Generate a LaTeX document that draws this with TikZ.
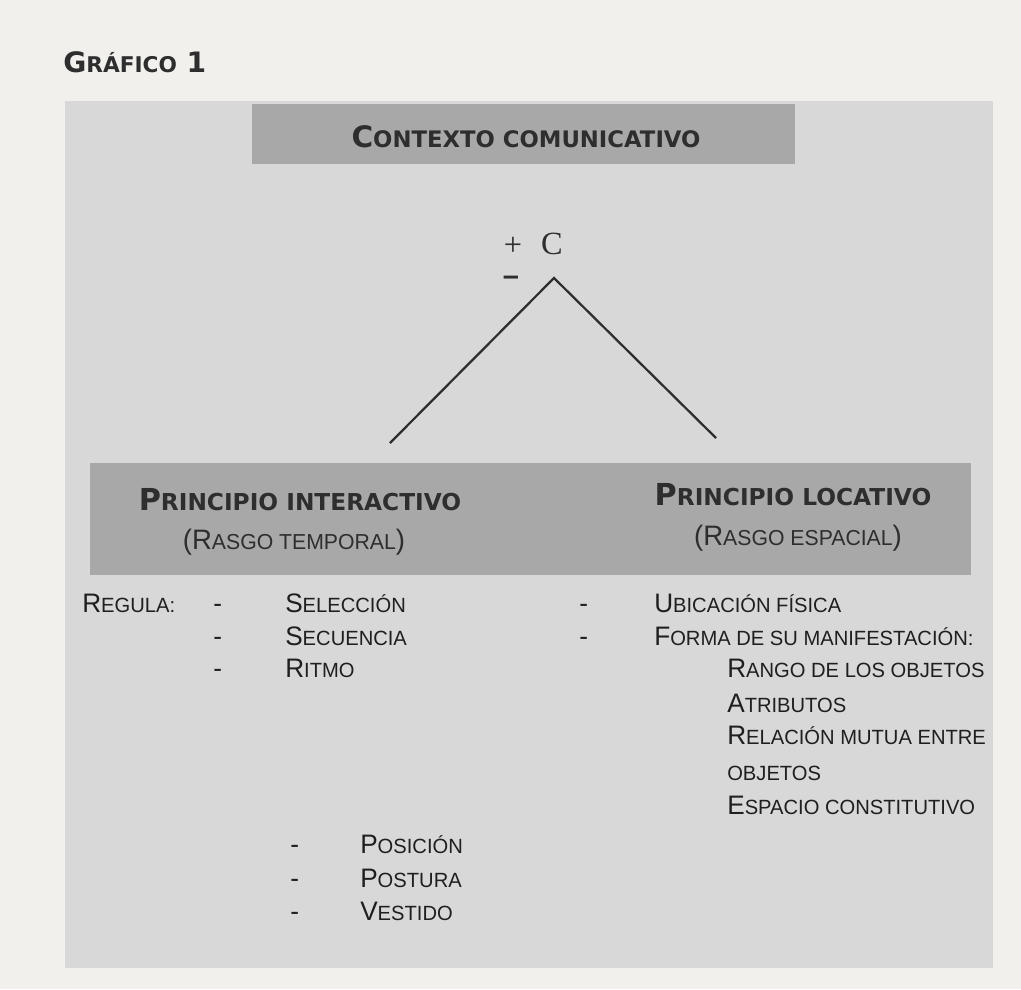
\documentclass[tikz,border=0pt]{standalone}
\usepackage{fontspec}
\usepackage{graphicx}
\usepackage{tikz}
\usetikzlibrary{positioning}
\setmainfont{Liberation Sans}
\newfontfamily\kopfschrift{DejaVu Sans}
\newfontfamily\listenschrift[FakeStretch=0.98]{Liberation Sans}
\newfontfamily\antiqua{Liberation Serif}
\definecolor{papier}{HTML}{F1F0ED}
\definecolor{tafel}{HTML}{D8D8D9}
\definecolor{balken}{HTML}{A8A8A8}
\definecolor{tinte}{HTML}{2E2E2E}
% Kapitaelchen von Hand
\newcommand{\kl}[1]{\scalebox{0.77}{#1}}
\tikzset{
  kopf/.style={inner sep=0pt, text=tinte, font=\kopfschrift\bfseries\fontsize{21.5}{24}\selectfont},
  unterkopf/.style={inner sep=0pt, anchor=base, text=tinte, font=\listenschrift\fontsize{20}{22}\selectfont},
  eintrag/.style={inner sep=0pt, anchor=base west, text=black!88, font=\listenschrift\fontsize{19}{21}\selectfont},
}

\begin{document}
\begin{tikzpicture}[x=0.025cm,y=-0.025cm]
\useasboundingbox (0,0) rectangle (1021,989);
\fill[papier] (0,0) rectangle (1021,989);
\fill[tafel] (65,101) rectangle (993,968);
\fill[balken] (252,104) rectangle (795,164);
\fill[balken] (90,463) rectangle (971,575);

\node[kopf, anchor=base west, font=\kopfschrift\bfseries\fontsize{20}{22}\selectfont] (titel) at (63,72) {G\kl{RÁFICO} 1};
\node[kopf, anchor=base, font=\kopfschrift\bfseries\fontsize{21}{24}\selectfont] (kontext) at (526,147) {C\kl{ONTEXTO COMUNICATIVO}};

%Spitze unter dem C
\node[inner sep=0pt, text=tinte, font=\antiqua\fontsize{23}{25}\selectfont] (plus) at (513,246) {+};
\node[inner sep=0pt, anchor=base, text=tinte, font=\antiqua\fontsize{23}{25}\selectfont] (c) at (552,254) {C};
\node[inner sep=0pt, text=tinte, font=\listenschrift\bfseries\fontsize{21}{22}\selectfont] (minus) at (511,281) {–};
\coordinate (spitze) at (554,278);
\coordinate (linksende) at (390,443);
\coordinate (rechtsende) at (716,438);
\draw[line width=1.6pt, tinte] (linksende) -- (spitze) -- (rechtsende);

\node[kopf, anchor=base] (interaktiv) at (300,510) {P\kl{RINCIPIO INTERACTIVO}};
\node[unterkopf] (zeitlich) at (294,549) {(R\kl{ASGO TEMPORAL})};
\node[kopf, anchor=base] (lokativ) at (793,505) {P\kl{RINCIPIO LOCATIVO}};
\node[unterkopf] (raeumlich) at (798,545) {(R\kl{ASGO ESPACIAL})};

%linke Spalte
\node[eintrag] (regula) at (82,612) {R\kl{EGULA:}};
\foreach \n/\t/\yy in {sel/{S\kl{ELECCIÓN}}/612, sec/{S\kl{ECUENCIA}}/645, rit/{R\kl{ITMO}}/677}{
  \node[eintrag] (strich-\n) at (213,\yy) {-};
  \node[eintrag] (\n) at (285,\yy) {\t};
}
\foreach \n/\t/\yy in {pos/{P\kl{OSICIÓN}}/853, pst/{P\kl{OSTURA}}/887, ves/{V\kl{ESTIDO}}/920}{
  \node[eintrag] (strich-\n) at (290,\yy) {-};
  \node[eintrag] (\n) at (360,\yy) {\t};
}

%rechte Spalte
\foreach \n/\t/\yy in {ubi/{U\kl{BICACIÓN FÍSICA}}/612, for/{F\kl{ORMA DE SU MANIFESTACIÓN:}}/645}{
  \node[eintrag] (strich-\n) at (579,\yy) {-};
  \node[eintrag] (\n) at (654,\yy) {\t};
}
\foreach \n/\t/\yy in {ran/{R\kl{ANGO DE LOS OBJETOS}}/677, atr/{A\kl{TRIBUTOS}}/712, rel/{R\kl{ELACIÓN MUTUA ENTRE}}/744, obj/{\kl{OBJETOS}}/780, esp/{E\kl{SPACIO CONSTITUTIVO}}/814}{
  \node[eintrag] (\n) at (727,\yy) {\t};
}
\end{tikzpicture}
\end{document}
